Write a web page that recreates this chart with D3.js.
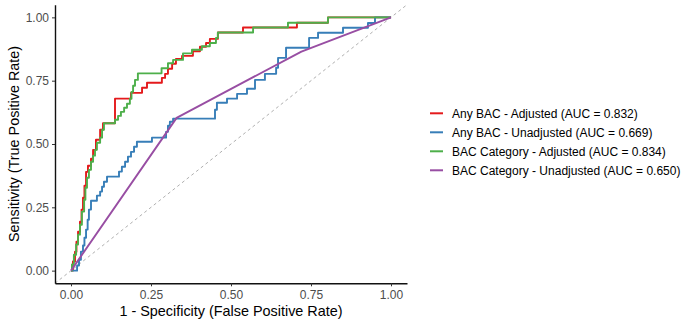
<!DOCTYPE html>
<html>
<head>
<meta charset="utf-8">
<script src="https://cdn.jsdelivr.net/npm/d3@7"></script>
<style>
  body { margin: 0; background: #fff; }
  svg { font-family: "Liberation Sans", Arial, Helvetica, sans-serif; }
</style>
</head>
<body>
<svg id="roc" width="688" height="320"></svg>
<script>
// series info
const seriesNames = ["Any BAC - Adjusted", "Any BAC - Unadjusted", "BAC Category - Adjusted", "BAC Category - Unadjusted"]
const aucValues = [0.832, 0.669, 0.834, 0.650]
const tickValues = [0, 0.25, 0.5, 0.75, 1]

// ROC points (1 - specificity, sensitivity)
const anyAdjFpr = [0, 0.006, 0.0125, 0.017, 0.022, 0.028, 0.033, 0.0375, 0.042, 0.047, 0.053, 0.0625, 0.069, 0.078, 0.091, 0.1, 0.1375, 0.1875, 0.222, 0.2375, 0.284, 0.294, 0.303, 0.316, 0.328, 0.347, 0.381, 0.403, 0.422, 0.434, 0.459, 0.5375, 0.706, 0.803, 1]
const anyAdjTpr = [0, 0.036, 0.075, 0.114, 0.154, 0.193, 0.241, 0.288, 0.335, 0.39, 0.414, 0.442, 0.477, 0.517, 0.556, 0.582, 0.679, 0.702, 0.722, 0.742, 0.761, 0.777, 0.797, 0.817, 0.836, 0.848, 0.866, 0.884, 0.899, 0.915, 0.94, 0.96, 0.979, 1, 1]

const anyUnadjFpr = [0, 0.019, 0.025, 0.031, 0.0375, 0.042, 0.047, 0.052, 0.056, 0.0625, 0.081, 0.091, 0.097, 0.103, 0.1125, 0.15, 0.159, 0.169, 0.178, 0.1875, 0.197, 0.206, 0.253, 0.297, 0.303, 0.309, 0.319, 0.45, 0.456, 0.4875, 0.519, 0.55, 0.575, 0.606, 0.641, 0.647, 0.672, 0.744, 0.772, 0.85, 0.928, 0.95, 1]
const anyUnadjTpr = [0, 0.02, 0.043, 0.075, 0.099, 0.13, 0.162, 0.201, 0.241, 0.276, 0.296, 0.312, 0.331, 0.351, 0.371, 0.391, 0.41, 0.43, 0.45, 0.469, 0.489, 0.509, 0.525, 0.548, 0.572, 0.588, 0.6, 0.635, 0.663, 0.679, 0.698, 0.718, 0.753, 0.777, 0.801, 0.84, 0.88, 0.919, 0.939, 0.959, 0.978, 1, 1]

const catAdjFpr = [0, 0.003, 0.009, 0.016, 0.022, 0.028, 0.034, 0.041, 0.045, 0.05, 0.056, 0.0625, 0.069, 0.075, 0.081, 0.091, 0.097, 0.103, 0.1375, 0.147, 0.156, 0.166, 0.175, 0.184, 0.189, 0.194, 0.2, 0.209, 0.283, 0.303, 0.319, 0.35, 0.378, 0.409, 0.434, 0.453, 0.459, 0.569, 0.678, 0.803, 1]
const catAdjTpr = [0, 0.024, 0.063, 0.103, 0.142, 0.181, 0.233, 0.28, 0.327, 0.367, 0.398, 0.43, 0.454, 0.477, 0.505, 0.525, 0.556, 0.582, 0.596, 0.611, 0.627, 0.643, 0.659, 0.679, 0.706, 0.73, 0.753, 0.779, 0.799, 0.819, 0.832, 0.858, 0.872, 0.886, 0.899, 0.919, 0.94, 0.96, 0.979, 1, 1]

const catUnadjFpr = [0, 0.33, 0.72, 1]
const catUnadjTpr = [0, 0.603, 0.865, 1]

const colors = ["#E41A1C", "#377EB8", "#4DAF4A", "#984EA3"]

const series = [
  {fpr: anyAdjFpr, tpr: anyAdjTpr, step: true},
  {fpr: anyUnadjFpr, tpr: anyUnadjTpr, step: true},
  {fpr: catAdjFpr, tpr: catAdjTpr, step: true},
  {fpr: catUnadjFpr, tpr: catUnadjTpr, step: false}
].map((s, i) => ({
  name: seriesNames[i],
  auc: aucValues[i],
  color: colors[i],
  step: s.step,
  points: s.fpr.map((f, j) => ({x: f, y: s.tpr[j]}))
}))

const svg = d3.select('#roc')
const plotLeft = 55, plotRight = 407, plotTop = 4.7, plotBottom = 283.3

const x = d3.scaleLinear().domain([-0.05, 1.05]).range([plotLeft, plotRight])
const y = d3.scaleLinear().domain([-0.05, 1.05]).range([plotBottom, plotTop])

// reference diagonal
svg.append('line')
  .attr('x1', x(-0.05)).attr('y1', y(-0.05))
  .attr('x2', x(1.05)).attr('y2', y(1.05))
  .attr('stroke', '#9a9a9a')
  .attr('stroke-width', 0.8)
  .attr('stroke-dasharray', '3,3')

// curves
const stepLine = d3.line().x(d => x(d.x)).y(d => y(d.y)).curve(d3.curveStepAfter)
const straightLine = d3.line().x(d => x(d.x)).y(d => y(d.y))

svg.selectAll('.roc').data(series).enter().append('path')
  .attr('class', 'roc')
  .attr('d', d => (d.step ? stepLine : straightLine)(d.points))
  .attr('fill', 'none')
  .attr('stroke', d => d.color)
  .attr('stroke-width', 1.9)
  .attr('stroke-linejoin', 'round')

// axes
const xAxis = d3.axisBottom(x).tickValues(tickValues).tickFormat(d3.format('.2f'))
  .tickSize(3).tickSizeOuter(0).tickPadding(4.5)
const yAxis = d3.axisLeft(y).tickValues(tickValues).tickFormat(d3.format('.2f'))
  .tickSize(3).tickSizeOuter(0).tickPadding(3)

const gx = svg.append('g').attr('transform', `translate(0,${plotBottom})`).call(xAxis)
const gy = svg.append('g').attr('transform', `translate(${plotLeft},0)`).call(yAxis)

;[gx, gy].forEach(g => {
  g.select('.domain').attr('stroke', '#111').attr('stroke-width', 1.4)
  g.selectAll('.tick line').attr('stroke', '#333').attr('stroke-width', 1)
  g.selectAll('.tick text').attr('fill', '#4D4D4D').style('font-size', '12px')
})

// axis titles
svg.append('text')
  .attr('x', (plotLeft + plotRight) / 2).attr('y', 316)
  .attr('text-anchor', 'middle')
  .style('font-size', '14.4px')
  .text('1 - Specificity (False Positive Rate)')

svg.append('text')
  .attr('transform', `translate(18.5,${(plotTop + plotBottom) / 2}) rotate(-90)`)
  .attr('text-anchor', 'middle')
  .style('font-size', '14.4px')
  .text('Sensitivity (True Positive Rate)')

// legend
const legend = svg.append('g').attr('transform', 'translate(430,113.3)')
const rows = legend.selectAll('g').data(series).enter().append('g')
  .attr('transform', (d, i) => `translate(0,${i * 19})`)

rows.append('line')
  .attr('x1', 0).attr('x2', 13)
  .attr('stroke', d => d.color)
  .attr('stroke-width', 2)

rows.append('text')
  .attr('x', 22).attr('dy', '0.35em')
  .style('font-size', '12px')
  .text(d => `${d.name} (AUC = ${d.auc.toFixed(3)})`)
</script>
</body>
</html>
